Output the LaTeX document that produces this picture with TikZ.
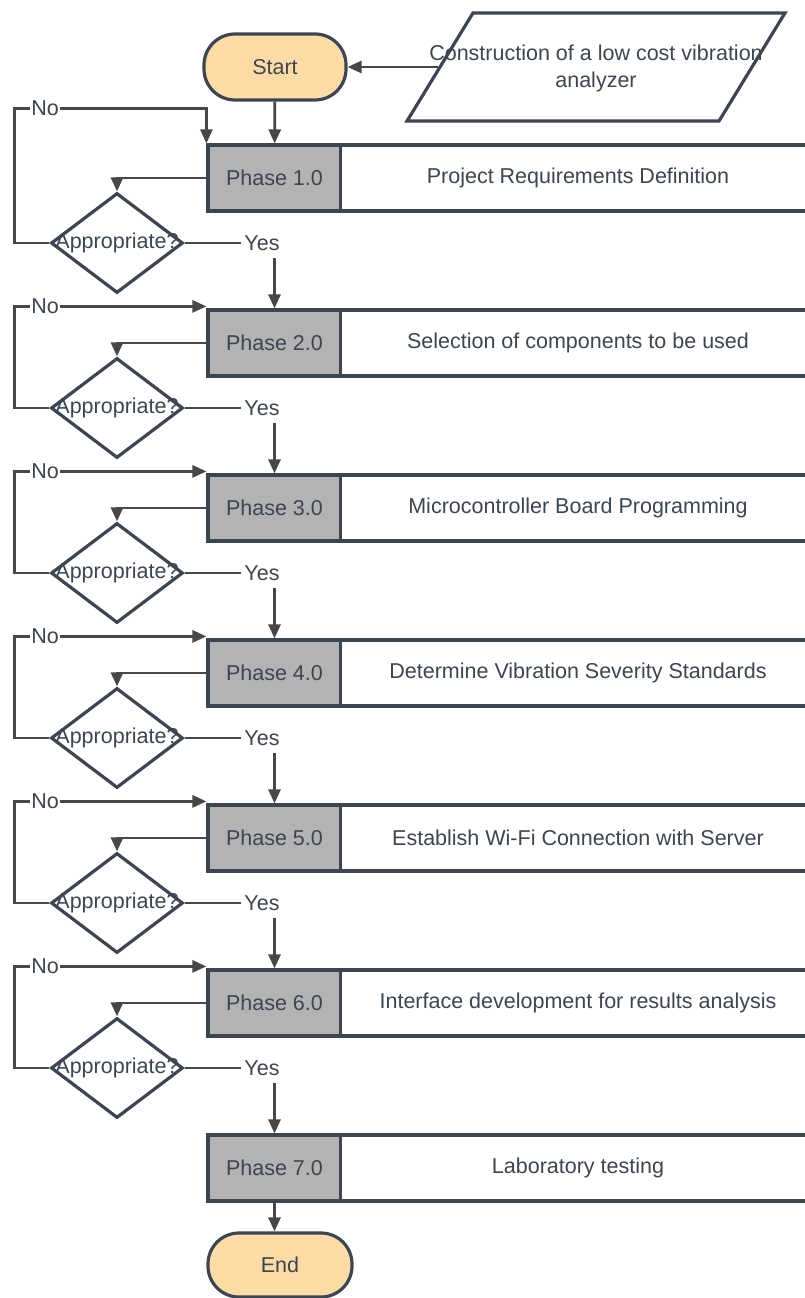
\documentclass[tikz,border=0pt]{standalone}
\usepackage{fontspec}
\setmainfont{Liberation Sans}
\usepackage{tikz}
\usetikzlibrary{arrows.meta,positioning,shapes.geometric}

\definecolor{ink}{HTML}{3B4652}
\definecolor{wire}{HTML}{474747}
\definecolor{phasegray}{HTML}{B3B3B3}
\definecolor{terminal}{HTML}{FFDBA6}

\tikzset{
  phasebox/.style={draw=ink,fill=phasegray,line width=3.2pt,minimum width=133pt,minimum height=66pt,inner sep=0pt},
  taskbox/.style={draw=ink,fill=white,line width=3.2pt,minimum width=475pt,minimum height=66pt,inner sep=0pt},
  decision/.style={diamond,draw=ink,fill=white,line width=3.2pt,minimum width=132pt,minimum height=100pt,inner sep=0pt},
  terminator/.style={draw=ink,fill=terminal,line width=3.2pt,rounded corners=31pt,minimum width=142pt,minimum height=66pt},
  source/.style={trapezium,trapezium left angle=75,trapezium right angle=105,trapezium stretches=true,draw=ink,fill=white,line width=3.2pt,minimum width=378pt,minimum height=108pt,inner sep=2pt},
  flow/.style={draw=wire,line width=2.8pt,->},
  answer/.style={fill=white,inner sep=1pt}
}

\begin{document}
\begin{tikzpicture}[x=1pt,y=-1pt,>={Triangle[length=14pt,width=12pt]},font=\fontsize{21.5}{27}\selectfont,text=ink]
    \useasboundingbox (0,0) rectangle (805,1298);
    \clip (0,0) rectangle (805,1298);

    \node[terminator] (start) at (275,67) {Start};
    \node[source,label={[align=center,text=ink,yshift=-1pt]center:Construction of a low cost vibration\\analyzer}] (src) at (596,67) {};
    \draw[flow] (src.west) -- (start.east);

    \foreach \i/\txt in {1/Project Requirements Definition,2/Selection of components to be used,3/Microcontroller Board Programming,4/Determine Vibration Severity Standards,5/Establish Wi-Fi Connection with Server,6/Interface development for results analysis,7/Laboratory testing} {
        \pgfmathsetmacro\cy{178+165*(\i-1)}
        \node[phasebox] (g\i) at (274.5,\cy) {Phase \i.0};
        \node[taskbox] (t\i) at (578,\cy) {\txt};
    }

    \foreach \i in {1,...,6} {
        \pgfmathsetmacro\dy{243+165*(\i-1)}
        \node[decision,label=center:Appropriate?] (d\i) at (117,\dy) {};
        \node (yes\i) at (262,\dy) {Yes};
    }

    \draw[flow] (start) -- (g1);
    \foreach \i [evaluate=\i as \j using int(\i+1)] in {1,...,6} {
        \draw[flow] (g\i.west) -| (d\i.north);
        \draw[flow,-] (d\i.east) -- (yes\i.west);
        \draw[flow] ([yshift=-4pt]yes\i.south -| g\j.north) -- (g\j.north);
    }

    \draw[flow] (d1.west) -- ++(-35,0) |- node[answer,pos=0.58] {No} ([yshift=35pt]g1.north west) -- (g1.north west);
    \foreach \i in {2,...,6} {
        \draw[flow] (d\i.west) -- ++(-35,0) |- node[answer,pos=0.58] {No} ([yshift=2pt]g\i.north west);
    }

    \node[terminator,minimum width=144pt,minimum height=64pt] (end) at (280,1265) {End};
    \draw[flow] (g7.south) -- (g7.south |- end.north);
\end{tikzpicture}
\end{document}
